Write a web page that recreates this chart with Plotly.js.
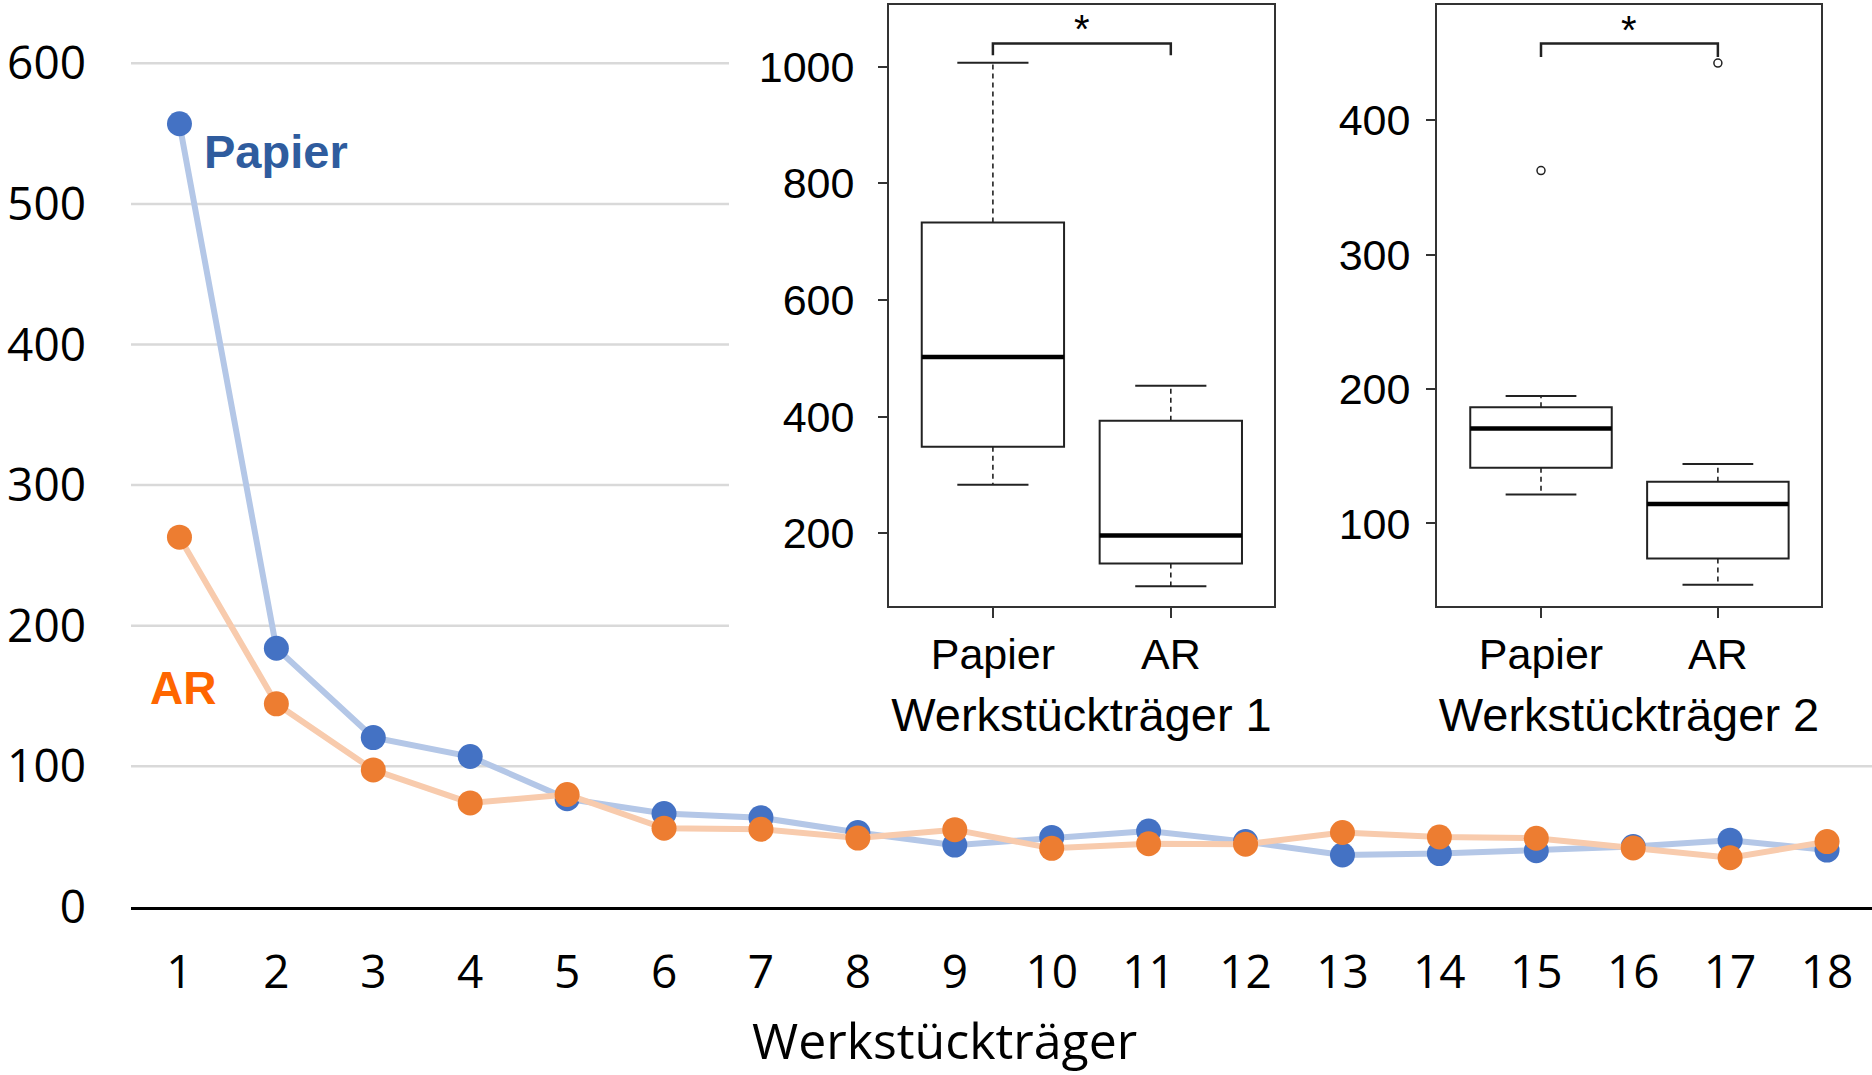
<!DOCTYPE html>
<html><head><meta charset="utf-8">
<script src="https://cdn.plot.ly/plotly-3.0.1.min.js"></script>
<style>html,body{margin:0;padding:0;background:#fff}#chart{width:1872px;height:1075px}</style>
</head><body><div id="chart"></div>
<script>
// ---- Main line chart data ----
const carriers = [1,2,3,4,5,6,7,8,9,10,11,12,13,14,15,16,17,18];
const papierSeries = [557,184,120.5,107,77,66.5,63.5,53,44,49.5,54,46.5,37,38,40,43,47.5,40.5];
const arSeries     = [263,144.5,97.5,74,80,56,55.3,49,55,41.7,45,44.7,53,49.8,48.9,42,35,46.5];
const mainYTicks = [0,100,200,300,400,500,600];
const gridValues = [100,200,300,400,500,600];
const mainXTitle = 'Werkstückträger';

// ---- Inset box plots (summary statistics) ----
const boxCats = ['Papier','AR'];
const wt1Lower  = [283,109];
const wt1Q1     = [348,148];
const wt1Median = [502,196];
const wt1Q3     = [733,393];
const wt1Upper  = [1007,453];
const wt1Outliers = [[],[]];
const wt1Ticks = [200,400,600,800,1000];

const wt2Lower  = [121.6,54.5];
const wt2Q1     = [141.4,74];
const wt2Median = [170.6,114.5];
const wt2Q3     = [186.5,131];
const wt2Upper  = [194.8,144.3];
const wt2Outliers = [[362.5],[442.5]];
const wt2Ticks = [100,200,300,400];

const W = 1872, H = 1075;
const px = v => v / W;
const py = v => 1 - v / H;

const BLUE = '#4472C4', ORANGE = '#ED7D31';
const BOXC = '#222';
const ARIAL = 'Liberation Sans, Arial, sans-serif';
const MAINF = 'Open Sans, Noto Sans, sans-serif';

const traces = [
  {x: carriers, y: papierSeries, type: 'scatter', mode: 'lines+markers', xaxis: 'x', yaxis: 'y',
   line: {color: 'rgb(180,199,231)', width: 6}, marker: {color: BLUE, size: 25}, hoverinfo: 'x+y', name: 'Papier'},
  {x: carriers, y: arSeries, type: 'scatter', mode: 'lines+markers', xaxis: 'x', yaxis: 'y',
   line: {color: 'rgb(248,203,173)', width: 6}, marker: {color: ORANGE, size: 25}, hoverinfo: 'x+y', name: 'AR'}
];

function addBoxes(ax, lower, q1, med, q3, upper, outliers, bracketY) {
  const pos = boxCats.map((c, i) => i);
  const xa = 'x' + ax, ya = 'y' + ax;
  traces.push({type: 'box', x: pos, q1: q1, median: med, q3: q3, lowerfence: q1, upperfence: q3,
    width: 0.8, xaxis: xa, yaxis: ya, fillcolor: '#fff', line: {color: BOXC, width: 2},
    whiskerwidth: 0, boxpoints: false, hoverinfo: 'skip', showlegend: false});
  const wx = [], wy = [], cx = [], cy = [], mx = [], my = [];
  pos.forEach((p, i) => {
    wx.push(p, p, null, p, p, null);
    wy.push(q3[i], upper[i], null, q1[i], lower[i], null);
    cx.push(p - 0.2, p + 0.2, null, p - 0.2, p + 0.2, null);
    cy.push(upper[i], upper[i], null, lower[i], lower[i], null);
    mx.push(p - 0.4, p + 0.4, null);
    my.push(med[i], med[i], null);
  });
  traces.push({type: 'scatter', mode: 'lines', x: wx, y: wy, xaxis: xa, yaxis: ya,
    line: {color: BOXC, width: 1.6, dash: '5px,4px'}, hoverinfo: 'skip', showlegend: false});
  traces.push({type: 'scatter', mode: 'lines', x: cx, y: cy, xaxis: xa, yaxis: ya,
    line: {color: BOXC, width: 2}, hoverinfo: 'skip', showlegend: false});
  traces.push({type: 'scatter', mode: 'lines', x: mx, y: my, xaxis: xa, yaxis: ya,
    line: {color: '#000', width: 4.5}, hoverinfo: 'skip', showlegend: false});
  const ox = [], oy = [];
  pos.forEach((p, i) => outliers[i].forEach(v => { ox.push(p); oy.push(v); }));
  if (ox.length) traces.push({type: 'scatter', mode: 'markers', x: ox, y: oy, xaxis: xa, yaxis: ya,
    marker: {symbol: 'circle-open', size: 8, color: BOXC, line: {width: 1.5}}, hoverinfo: 'skip', showlegend: false});
  // significance bracket
  traces.push({type: 'scatter', mode: 'lines', x: [0,0,1,1], y: bracketY, xaxis: xa, yaxis: ya,
    line: {color: BOXC, width: 2.5}, hoverinfo: 'skip', showlegend: false});
}
addBoxes('2', wt1Lower, wt1Q1, wt1Median, wt1Q3, wt1Upper, wt1Outliers, [1020, 1040, 1040, 1020]);
addBoxes('3', wt2Lower, wt2Q1, wt2Median, wt2Q3, wt2Upper, wt2Outliers, [447, 457, 457, 447]);

function insetX(domain, title) {
  return {domain: domain, range: [-0.584, 1.58], tickvals: [0,1], ticktext: boxCats,
    ticks: 'outside', ticklen: 10, tickwidth: 2, tickcolor: '#333',
    showline: true, mirror: true, linecolor: '#333', linewidth: 2,
    showgrid: false, zeroline: false, fixedrange: true,
    tickfont: {family: ARIAL, size: 43, color: '#000'}, ticklabelstandoff: -1,
    title: {text: title, font: {family: ARIAL, size: 47, color: '#000'}, standoff: 22}};
}
function insetY(domain, range, tickvals, standoff) {
  return {domain: domain, range: range, tickvals: tickvals,
    ticks: 'outside', ticklen: 9, tickwidth: 2, tickcolor: '#333',
    showline: true, mirror: true, linecolor: '#333', linewidth: 2,
    showgrid: false, zeroline: false, fixedrange: true,
    tickfont: {family: ARIAL, size: 43, color: '#000'}, ticklabelstandoff: standoff};
}

const shapes = gridValues.map(v => ({type: 'line', layer: 'below', xref: 'paper', yref: 'y',
  x0: px(131), x1: v === 100 ? 1 : px(729), y0: v, y1: v, line: {color: '#D9D9D9', width: 2.5}}));

const layout = {
  width: W, height: H, margin: {l: 0, r: 0, t: 0, b: 0},
  paper_bgcolor: '#fff', plot_bgcolor: '#fff', showlegend: false, boxmode: 'overlay',
  xaxis: {domain: [px(131), 1], range: [0.5, 18.464], tickvals: carriers, ticks: '',
    showline: true, linecolor: '#000', linewidth: 3, showgrid: false, zeroline: false,
    tickfont: {family: MAINF, size: 46, color: '#000'}, ticklabelstandoff: 23},
  yaxis: {domain: [py(907), py(7)], range: [0, 640], tickvals: mainYTicks, ticks: '',
    showline: false, showgrid: false, zeroline: false,
    tickfont: {family: MAINF, size: 46, color: '#000'}, ticklabelstandoff: 44},
  xaxis2: Object.assign(insetX([px(889), px(1274)], 'Werkstückträger 1'), {anchor: 'y2'}),
  yaxis2: Object.assign(insetY([py(606), py(5)], [75, 1106], wt1Ticks, 15), {anchor: 'x2'}),
  xaxis3: Object.assign(insetX([px(1437), px(1821)], 'Werkstückträger 2'), {anchor: 'y3', range: [-0.588, 1.583]}),
  yaxis3: Object.assign(insetY([py(606), py(5)], [38.6, 485.7], wt2Ticks, 7), {anchor: 'x3'}),
  shapes: shapes,
  annotations: [
    {text: mainXTitle, x: px(944), y: py(1040), xref: 'paper', yref: 'paper', xanchor: 'center', yanchor: 'middle',
     showarrow: false, font: {family: MAINF, size: 50, color: '#000'}},
    {text: '<b>Papier</b>', x: 1.23, y: 537, xref: 'x', yref: 'y', xanchor: 'left', yanchor: 'middle',
     showarrow: false, font: {family: ARIAL, size: 47, color: '#2F5C9E'}},
    {text: '<b>AR</b>', x: 0.675, y: 156, xref: 'x', yref: 'y', xanchor: 'left', yanchor: 'middle',
     showarrow: false, font: {family: ARIAL, size: 46, color: '#FF6600'}},
    {text: '*', x: 0.5, y: 1064, xref: 'x2', yref: 'y2', showarrow: false, yanchor: 'middle',
     font: {family: ARIAL, size: 40, color: '#000'}},
    {text: '*', x: 0.5, y: 467, xref: 'x3', yref: 'y3', showarrow: false, yanchor: 'middle',
     font: {family: ARIAL, size: 40, color: '#000'}}
  ]
};

Plotly.newPlot('chart', traces, layout, {displayModeBar: false, staticPlot: true});
</script></body></html>
